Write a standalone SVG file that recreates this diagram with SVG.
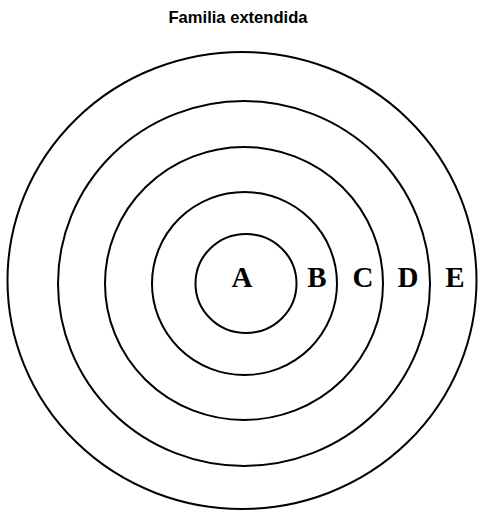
<svg xmlns="http://www.w3.org/2000/svg" width="479" height="511" viewBox="0 0 479 511">
<style>
.ring{fill:none;stroke:#000;stroke-width:2}
.lbl{font-family:"Liberation Serif","Times New Roman",serif;font-weight:bold;font-size:29px;text-anchor:middle;fill:#000}
.title{font-family:"Liberation Sans",Arial,sans-serif;font-weight:bold;font-size:17px;text-anchor:middle;fill:#000}
</style>
<rect width="479" height="511" fill="#fff"/>
<text class="title" x="238" y="23" textLength="139" lengthAdjust="spacingAndGlyphs">Familia extendida</text>
<g id="E"><ellipse class="ring" cx="242" cy="280.5" rx="234.5" ry="228.5"/><text class="lbl" x="455" y="287">E</text></g>
<g id="D"><ellipse class="ring" cx="244" cy="283.5" rx="186" ry="182.5"/><text class="lbl" x="408" y="287">D</text></g>
<g id="C"><ellipse class="ring" cx="244" cy="283.5" rx="139" ry="136.5"/><text class="lbl" x="363" y="287">C</text></g>
<g id="B"><ellipse class="ring" cx="244.5" cy="283.5" rx="92.5" ry="91.5"/><text class="lbl" x="317" y="287">B</text></g>
<g id="A"><ellipse class="ring" cx="246" cy="283.5" rx="50.5" ry="49.5"/><text class="lbl" x="242" y="287">A</text></g>
<g id="connectors"/>
</svg>
